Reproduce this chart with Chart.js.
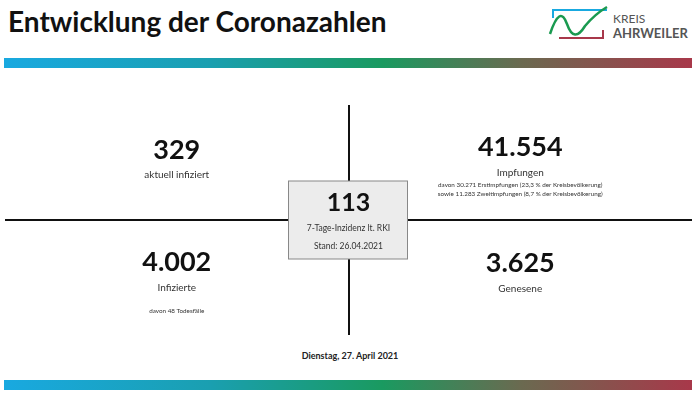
<!DOCTYPE html>
<html><head><meta charset="utf-8">
<script src="https://cdn.jsdelivr.net/npm/chart.js@4"></script>
<style>
body{margin:0;width:700px;height:404px;background:#fff;font-family:Lato,"Open Sans",sans-serif;position:relative;overflow:hidden}
.bar{position:absolute;left:4px;width:688px;height:10px;background:linear-gradient(90deg,#19a9e0 0%,#1a9fb0 30%,#1a9a60 55%,#6a6a50 75%,#a8384a 100%)}
#title{position:absolute;left:8px;top:4px;font-size:28px;font-weight:bold;color:#111}
#wrap{position:absolute;left:5px;top:105px;width:687px;height:230px}
#date{position:absolute;left:0;width:700px;top:350px;text-align:center;font-size:9px;font-weight:bold;color:#222}
</style></head><body>
<div id="title">Entwicklung der Coronazahlen</div>
<svg style="position:absolute;left:545px;top:2px" width="150" height="42">
<path d="M8,16 L8,8 L62,8" fill="none" stroke="#19a9e0" stroke-width="2"/>
<path d="M14,36 L58,36 L58,28" fill="none" stroke="#a8384a" stroke-width="2"/>
<path d="M5,32 Q15,2 22,22 T40,24 Q50,12 62,5" fill="none" stroke="#1a9a50" stroke-width="2.5"/>
<text x="68" y="21" font-size="12" fill="#555" font-family="Lato">KREIS</text>
<text x="68" y="36" font-size="13" font-weight="bold" fill="#555" font-family="Lato">AHRWEILER</text>
</svg>
<div class="bar" style="top:58px"></div>
<div id="wrap"><canvas id="c"></canvas></div>
<div id="date">Dienstag, 27. April 2021</div>
<div class="bar" style="top:380px"></div>
<script>
// KENNZAHLEN
const values = ["329", "41.554", "4.002", "3.625"];
const labels = ["aktuell infiziert", "Impfungen", "Infizierte", "Genesene"];
const notes = [[], ["davon 30.271 Erstimpfungen (23,3 % der Kreisbevölkerung)", "sowie 11.283 Zweitimpfungen (8,7 % der Kreisbevölkerung)"], ["davon 48 Todesfälle"], []];
const xs = [-0.5, 0.5, -0.5, 0.5];
const ys = [0.61, 0.63, -0.37, -0.38];
const incidence = "113";
const incidenceLabel = "7-Tage-Inzidenz lt. RKI";
const stand = "Stand: 26.04.2021";

const textPlugin = {
    id: "texts",
    afterDraw(chart) {
        const ctx = chart.ctx, sx = chart.scales.x, sy = chart.scales.y;
        ctx.save();
        ctx.textAlign = "center";
        ctx.textBaseline = "middle";
        values.forEach((v, i) => {
            const px = sx.getPixelForValue(xs[i]), py = sy.getPixelForValue(ys[i]);
            ctx.font = "bold 27px Lato";
            ctx.fillStyle = "#111";
            ctx.fillText(v, px, py);
            ctx.font = "10px Lato";
            ctx.fillStyle = "#333";
            ctx.fillText(labels[i], px, py + 25);
            notes[i].forEach((n, j) => {
                ctx.font = "6.3px Lato";
                ctx.fillText(n, px, py + (i == 2 ? 48 : 37) + j * 9);
            });
        });
        // Box Mitte
        const cx = sx.getPixelForValue(0), cy = sy.getPixelForValue(0);
        ctx.fillStyle = "#ececec";
        ctx.fillRect(cx - 60, cy - 39, 119, 78);
        ctx.strokeStyle = "#888";
        ctx.lineWidth = 1;
        ctx.strokeRect(cx - 60, cy - 39, 119, 78);
        ctx.fillStyle = "#111";
        ctx.font = "bold 25px Lato";
        ctx.fillText(incidence, cx, cy - 17);
        ctx.fillStyle = "#333";
        ctx.font = "8.5px Lato";
        ctx.fillText(incidenceLabel, cx, cy + 8);
        ctx.fillText(stand, cx, cy + 26);
        ctx.restore();
    }
};

new Chart(document.getElementById("c"), {
    type: "scatter",
    data: { datasets: [{ data: xs.map((x, i) => ({ x: x, y: ys[i] })), pointRadius: 0 }] },
    options: {
        responsive: true, maintainAspectRatio: false, animation: false,
        layout: { padding: 0 },
        plugins: { legend: { display: false }, tooltip: { enabled: false } },
        scales: {
            x: { min: -1, max: 1, ticks: { display: false, stepSize: 1 }, border: { display: false },
                 grid: { color: c => c.tick.value === 0 ? "#111" : "transparent", lineWidth: 2, drawTicks: false } },
            y: { min: -1, max: 1, ticks: { display: false, stepSize: 1 }, border: { display: false },
                 grid: { color: c => c.tick.value === 0 ? "#111" : "transparent", lineWidth: 2, drawTicks: false } }
        }
    },
    plugins: [textPlugin]
});
</script>
</body></html>
